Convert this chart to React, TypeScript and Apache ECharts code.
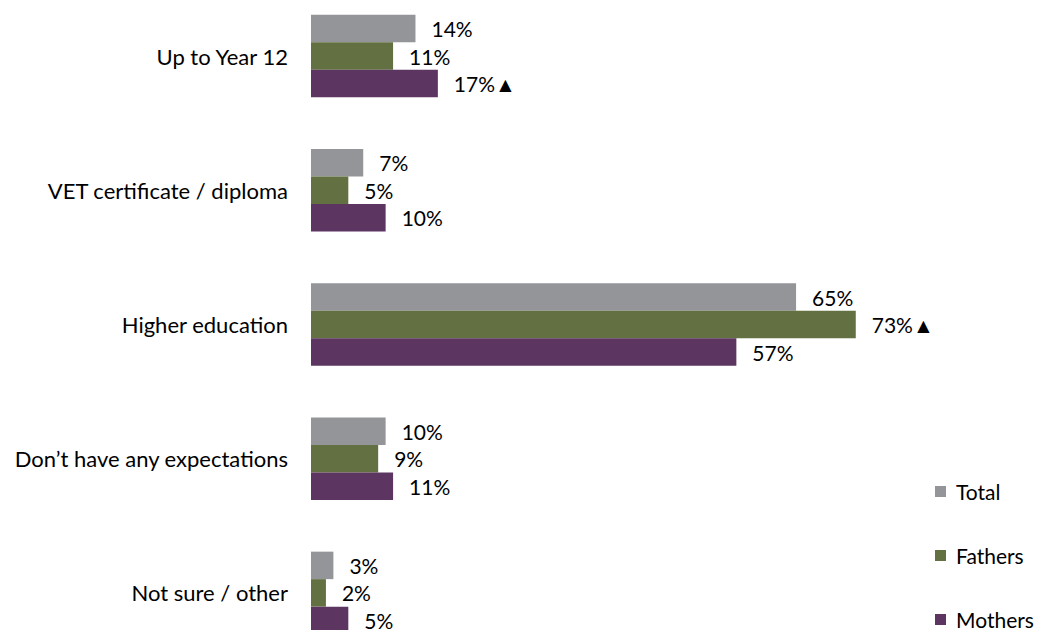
import React, { useEffect, useRef } from "react";
import * as echarts from "echarts";

const categories = [
  "Up to Year 12",
  "VET certificate / diploma",
  "Higher education",
  "Don\u2019t have any expectations",
  "Not sure / other",
];
const seriesNames = ["Total", "Fathers", "Mothers"];
const totalValues = [14, 7, 65, 10, 3];
const fathersValues = [11, 5, 73, 9, 2];
const mothersValues = [17, 10, 57, 11, 5];
const totalSig = [false, false, false, false, false];
const fathersSig = [false, false, true, false, false];
const mothersSig = [true, false, false, false, false];
const colors = ["#939598", "#637041", "#5c3560"];

const FONT = "Lato";
const OFFSET = 11;

export default function App() {
  const ref = useRef<HTMLDivElement>(null);
  useEffect(() => {
    const chart = echarts.init(ref.current!, null, { renderer: "svg" });
    const values = [totalValues, fathersValues, mothersValues];
    const sigs = [totalSig, fathersSig, mothersSig];
    chart.setOption({
      animation: false,
      textStyle: { fontFamily: FONT },
      grid: { left: 311, top: 0, width: 597, height: 671, containLabel: false },
      legend: {
        orient: "vertical",
        left: 930,
        top: 476 + OFFSET,
        itemWidth: 11,
        itemHeight: 11,
        itemGap: 43,
        icon: "rect",
        textStyle: { fontFamily: FONT, fontSize: 21, color: "#000", padding: [0, 0, 0, 5] },
        data: seriesNames,
      },
      xAxis: { type: "value", min: 0, max: 80, show: false },
      yAxis: {
        type: "category",
        inverse: true,
        data: categories,
        axisLine: { show: false },
        axisTick: { show: false },
        axisLabel: { margin: 23, fontFamily: FONT, fontSize: 22, color: "#000" },
      },
      series: seriesNames.map((name, i) => ({
        name,
        type: "bar",
        data: values[i],
        barWidth: 27.5,
        barGap: "0%",
        itemStyle: { color: colors[i] },
        label: {
          show: true,
          position: "right",
          distance: 16,
          fontFamily: FONT,
          fontSize: 21,
          color: "#000",
          formatter: (p: any) => p.value + "%" + (sigs[i][p.dataIndex] ? "\u25B2" : ""),
        },
      })),
    });
    return () => chart.dispose();
  }, []);
  return (
    <div
      ref={ref}
      style={{ position: "fixed", left: 0, top: -OFFSET, width: 1040, height: 671, background: "#fff" }}
    />
  );
}
